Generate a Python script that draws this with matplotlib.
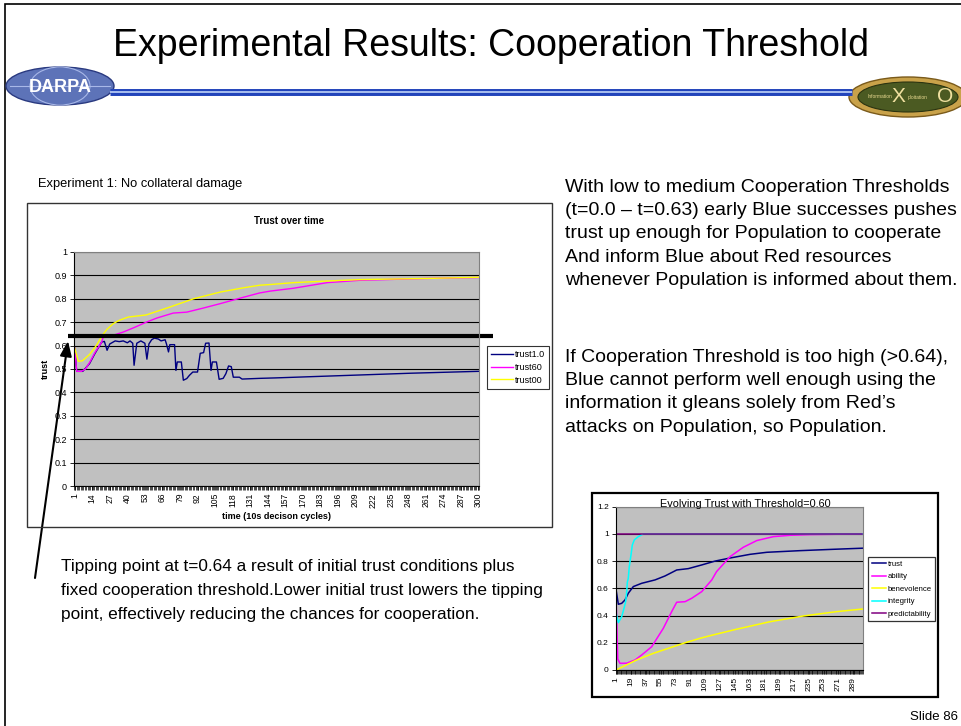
import matplotlib
matplotlib.use("Agg")
import matplotlib.pyplot as plt
from matplotlib.patches import Rectangle, Ellipse
from matplotlib.lines import Line2D
from matplotlib import font_manager as fm

# ---------------- data: "Trust over time" (Experiment 1) ----------------
trust10_t = [1, 2.5, 7, 12, 16, 21, 23, 25, 27, 31, 34, 37, 40, 42, 44, 45, 47, 50, 53, 54.5,
             56, 58, 60, 63, 65, 68, 69, 70.5, 71.5, 75, 76, 77, 80, 81.5, 84, 86, 88.5, 92, 94, 96.5,
             98, 100.5, 102, 103, 106, 108, 111, 113, 115, 117, 118.5, 123, 125, 138, 150, 175, 200, 250, 300]
trust10_v = [0.59, 0.49, 0.49, 0.523, 0.566, 0.615, 0.618, 0.58, 0.607, 0.62, 0.617, 0.62, 0.612, 0.62, 0.61,
             0.516, 0.61, 0.62, 0.61, 0.542, 0.607, 0.625, 0.632, 0.628, 0.62, 0.625, 0.607, 0.573, 0.604, 0.604,
             0.494, 0.53, 0.53, 0.452, 0.459, 0.473, 0.487, 0.487, 0.567, 0.57, 0.61, 0.611, 0.494, 0.53, 0.53,
             0.456, 0.46, 0.48, 0.513, 0.51, 0.465, 0.465, 0.457, 0.46, 0.462, 0.467, 0.472, 0.482, 0.49]
trust60_t = [1, 2.5, 6, 9, 12.3, 16, 21, 22, 30, 37, 45, 54, 62, 74, 84, 96, 108.6, 125, 138, 146,
             163, 188, 212, 237, 262, 300]
trust60_v = [0.59, 0.49, 0.49, 0.50, 0.53, 0.57, 0.615, 0.634, 0.645, 0.658, 0.677, 0.70, 0.718, 0.739,
             0.743, 0.76, 0.779, 0.805, 0.825, 0.833, 0.845, 0.869, 0.879, 0.883, 0.887, 0.891]
trust00_t = [1, 3.7, 6.7, 12, 17, 21.5, 25, 29.6, 34, 40.7, 54, 71.6, 89, 109, 126, 138, 146, 163, 188,
             212, 242, 262, 300]
trust00_v = [0.59, 0.533, 0.535, 0.562, 0.60, 0.644, 0.67, 0.694, 0.708, 0.722, 0.731, 0.765, 0.80, 0.829,
             0.847, 0.858, 0.861, 0.869, 0.876, 0.882, 0.885, 0.887, 0.892]
series1_names = ["trust1.0", "trust60", "trust00"]
xticks1 = list(range(1, 301, 13))
yticks1 = [0, 0.1, 0.2, 0.3, 0.4, 0.5, 0.6, 0.7, 0.8, 0.9, 1]
TIPPING = 0.64

# ---------------- data: "Evolving Trust with Threshold=0.60" ----------------
trust_t = [1, 3.7, 7.8, 11.8, 15.8, 21.9, 32, 48.3, 60.4, 74.6, 88.7, 105, 121, 139.4, 163.7, 184,
           224.4, 265, 300]
trust_v = [0.588, 0.483, 0.49, 0.515, 0.564, 0.613, 0.637, 0.662, 0.691, 0.735, 0.745, 0.772, 0.80,
           0.823, 0.85, 0.865, 0.877, 0.887, 0.895]
ability_t = [1, 2, 3, 5.7, 13.9, 24, 32, 44.2, 58.3, 68.5, 74.6, 84.7, 92.8, 105, 117.2, 123, 139.4,
             155.5, 171.8, 192, 212.3, 236.6, 300]
ability_v = [0.52, 0.3, 0.08, 0.049, 0.05, 0.074, 0.11, 0.171, 0.306, 0.429, 0.498, 0.502, 0.527, 0.576,
             0.662, 0.723, 0.833, 0.902, 0.951, 0.98, 0.99, 0.995, 1.0]
benevolence_t = [1, 26, 46, 84.7, 103, 115, 147.5, 188, 228.5, 269, 300]
benevolence_v = [0.0, 0.074, 0.122, 0.2, 0.233, 0.252, 0.30, 0.355, 0.397, 0.429, 0.448]
integrity_t = [1, 3.7, 7.8, 10.6, 12.6, 13.9, 14.6, 15.8, 17, 19.1, 20.7, 23.1, 28, 34, 300]
integrity_v = [0.42, 0.348, 0.392, 0.454, 0.503, 0.576, 0.645, 0.674, 0.76, 0.846, 0.919, 0.956, 0.98,
               1.0, 1.0]
predictability_t = [1, 300]
predictability_v = [1.0, 1.0]
series2_names = ["trust", "ability", "benevolence", "integrity", "predictability"]
xticks2 = list(range(1, 301, 18))
yticks2 = [0, 0.2, 0.4, 0.6, 0.8, 1.0, 1.2]

# ---------------- fonts ----------------
_names = {f.name for f in fm.fontManager.ttflist}
SANS = "Liberation Sans" if "Liberation Sans" in _names else "DejaVu Sans"
plt.rcParams["font.family"] = [SANS, "DejaVu Sans"]

W, H = 961, 726
fig = plt.figure(figsize=(W / 100, H / 100), dpi=100)
fig.patch.set_facecolor("white")


def fx(x):
    return x / W


def fy(y):
    return 1 - y / H


def box(x0, y0, x1, y1, **kw):
    r = Rectangle((fx(x0), fy(y1)), (x1 - x0) / W, (y1 - y0) / H,
                  transform=fig.transFigure, **kw)
    fig.add_artist(r)
    return r


# slide border
box(5, 4, 1200, 900, fill=False, ec="black", lw=1.2)

# ---------------- header ----------------
fig.text(fx(491), fy(46), "Experimental Results: Cooperation Threshold", ha="center", va="center",
         fontsize=27, color="black")

# header rule
fig.add_artist(Line2D([fx(110), fx(852)], [fy(92), fy(92)], transform=fig.transFigure,
                      color="#2244bb", lw=5, solid_capstyle="butt"))
fig.add_artist(Line2D([fx(110), fx(852)], [fy(92), fy(92)], transform=fig.transFigure,
                      color="#a9bff0", lw=1.4, solid_capstyle="butt"))

# DARPA globe
fig.add_artist(Ellipse((fx(60), fy(86)), 108 / W, 38 / H, transform=fig.transFigure,
                       fc="#5d73b8", ec="#2a3a80", lw=1))
fig.add_artist(Ellipse((fx(60), fy(86)), 60 / W, 38 / H, transform=fig.transFigure,
                       fill=False, ec="#a8b8e8", lw=0.8))
fig.add_artist(Line2D([fx(10), fx(110)], [fy(86), fy(86)], transform=fig.transFigure,
                      color="#a8b8e8", lw=0.8))
fig.text(fx(60), fy(87), "DARPA", ha="center", va="center", fontsize=13, color="white",
         fontweight="bold")

# IXO badge
fig.add_artist(Ellipse((fx(908), fy(97)), 118 / W, 40 / H, transform=fig.transFigure,
                       fc="#c9a24a", ec="#7a5a1a", lw=1))
fig.add_artist(Ellipse((fx(908), fy(97)), 100 / W, 30 / H, transform=fig.transFigure,
                       fc="#4b5a22", ec="#2a3310", lw=0.8))
fig.text(fx(880), fy(97), "Information", ha="center", va="center", fontsize=3.5, color="#e8d890")
fig.text(fx(898), fy(97), "X", ha="center", va="center", fontsize=15, color="#f0e0a0")
fig.text(fx(918), fy(97), "ploitation", ha="center", va="center", fontsize=3.5, color="#e8d890")
fig.text(fx(945), fy(97), "O", ha="center", va="center", fontsize=15, color="#f0e0a0")

# ---------------- chart 1 ----------------
fig.text(fx(38), fy(184), "Experiment 1: No collateral damage", ha="left", va="center", fontsize=9.3)
box(27, 203, 552, 527, fill=False, ec="#333333", lw=1)

ax1 = fig.add_axes([fx(74), fy(486), (479 - 74) / W, (486 - 252) / H])
ax1.set_facecolor("#c0c0c0")
ax1.plot(trust10_t, trust10_v, color="#000080", lw=1.0, label=series1_names[0])
ax1.plot(trust60_t, trust60_v, color="#ff00ff", lw=1.0, label=series1_names[1])
ax1.plot(trust00_t, trust00_v, color="#ffff00", lw=1.0, label=series1_names[2])
ax1.set_xlim(0.5, 300.5)
ax1.set_ylim(0, 1)
ax1.set_yticks(yticks1)
ax1.set_yticklabels(["0" if v == 0 else ("1" if v == 1 else f"{v:.1f}") for v in yticks1], fontsize=6.5)
ax1.set_xticks(xticks1)
ax1.set_xticklabels([str(v) for v in xticks1], rotation=90, fontsize=6.2)
ax1.set_xticks([i + 0.5 for i in range(0, 301)], minor=True)
ax1.tick_params(axis="x", which="both", length=3, width=0.5, pad=2, direction="out")
ax1.tick_params(axis="y", length=3, width=0.6, pad=2)
ax1.grid(axis="y", color="black", lw=0.8)
ax1.set_axisbelow(True)
for s in ("top", "right"):
    ax1.spines[s].set_color("#808080")
for s in ("left", "bottom"):
    ax1.spines[s].set_color("black")
ax1.set_title("Trust over time", fontsize=7, fontweight="bold", pad=0, x=(289 - 74) / 405, y=1.12)
ax1.set_xlabel("time (10s decison cycles)", fontsize=6.5, fontweight="bold", labelpad=3)
ax1.set_ylabel("trust", fontsize=6.5, fontweight="bold", labelpad=3)
leg1 = ax1.legend(loc="upper left", bbox_to_anchor=(fx(487), fy(346)), bbox_transform=fig.transFigure,
                  fontsize=6.5, frameon=True, fancybox=False, edgecolor="black", borderpad=0.45,
                  labelspacing=0.42, handlelength=2.4, handletextpad=0.2, borderaxespad=0)
leg1.get_frame().set_linewidth(0.8)

# cooperation tipping point line and arrow
ax1.plot([-0.015, 1.035], [TIPPING, TIPPING], transform=ax1.get_yaxis_transform(), color="black",
         lw=3, clip_on=False, solid_capstyle="butt")
ax1.annotate("", xy=(fx(68), fy(341)), xycoords="figure fraction",
             xytext=(fx(35), fy(578)), textcoords="figure fraction",
             arrowprops=dict(arrowstyle="-|>,head_length=0.9,head_width=0.35", color="black", lw=1.5,
                             shrinkA=0, shrinkB=0))

# ---------------- right column text ----------------
para1 = ["With low to medium Cooperation Thresholds",
         "(t=0.0 \u2013 t=0.63) early Blue successes pushes",
         "trust up enough for Population to cooperate",
         "And inform Blue about Red resources",
         "whenever Population is informed about them."]
para2 = ["If Cooperation Threshold is too high (>0.64),",
         "Blue cannot perform well enough using the",
         "information it gleans solely from Red\u2019s",
         "attacks on Population, so Population."]
for i, line in enumerate(para1):
    fig.text(fx(565), fy(187 + 23.4 * i), line, ha="left", va="center", fontsize=14.0)
for i, line in enumerate(para2):
    fig.text(fx(565), fy(357 + 23.4 * i), line, ha="left", va="center", fontsize=14.0)

# ---------------- bottom text ----------------
para3 = ["Tipping point at t=0.64 a result of initial trust conditions plus",
         "fixed cooperation threshold.Lower initial trust lowers the tipping",
         "point, effectively reducing the chances for cooperation."]
for i, line in enumerate(para3):
    fig.text(fx(61), fy(566 + 24 * i), line, ha="left", va="center", fontsize=12.4)

# ---------------- chart 2 ----------------
box(592, 493, 938, 697, fill=False, ec="black", lw=1.6)
ax2 = fig.add_axes([fx(615.7), fy(670), (862.7 - 615.7) / W, (670 - 506.7) / H])
ax2.set_facecolor("#c0c0c0")
ax2.plot(trust_t, trust_v, color="#000080", lw=1.1, label=series2_names[0])
ax2.plot(ability_t, ability_v, color="#ff00ff", lw=1.1, label=series2_names[1])
ax2.plot(benevolence_t, benevolence_v, color="#ffff00", lw=1.1, label=series2_names[2])
ax2.plot(integrity_t, integrity_v, color="#00ffff", lw=1.1, label=series2_names[3])
ax2.plot(predictability_t, predictability_v, color="#800080", lw=1.1, label=series2_names[4])
ax2.set_xlim(0.5, 300.5)
ax2.set_ylim(0, 1.2)
ax2.set_yticks(yticks2)
ax2.set_yticklabels(["0" if v == 0 else ("1" if v == 1 else f"{v:.1f}") for v in yticks2], fontsize=6)
ax2.set_xticks(xticks2)
ax2.set_xticklabels([str(v) for v in xticks2], rotation=90, fontsize=6)
ax2.set_xticks([i + 0.5 for i in range(0, 301)], minor=True)
ax2.tick_params(axis="x", which="both", length=3, width=0.5, pad=2, direction="out")
ax2.tick_params(axis="y", length=3, width=0.6, pad=2)
ax2.grid(axis="y", color="black", lw=0.8)
ax2.set_axisbelow(True)
for s in ("top", "right"):
    ax2.spines[s].set_color("#808080")
for s in ("left", "bottom"):
    ax2.spines[s].set_color("black")
ax2.text(0.525, 1.0, "Evolving Trust with Threshold=0.60", transform=ax2.transAxes, ha="center",
         va="baseline", fontsize=7.8)
leg2 = ax2.legend(loc="upper left", bbox_to_anchor=(fx(868), fy(557)), bbox_transform=fig.transFigure,
                  fontsize=5.6, frameon=True, fancybox=False, edgecolor="black", borderpad=0.45,
                  labelspacing=0.65, handlelength=1.9, handletextpad=0.2, borderaxespad=0)
leg2.get_frame().set_linewidth(0.9)

fig.text(fx(958), fy(717), "Slide 86", ha="right", va="center", fontsize=9.5)

fig.savefig("out.png", dpi=100, facecolor="white")
